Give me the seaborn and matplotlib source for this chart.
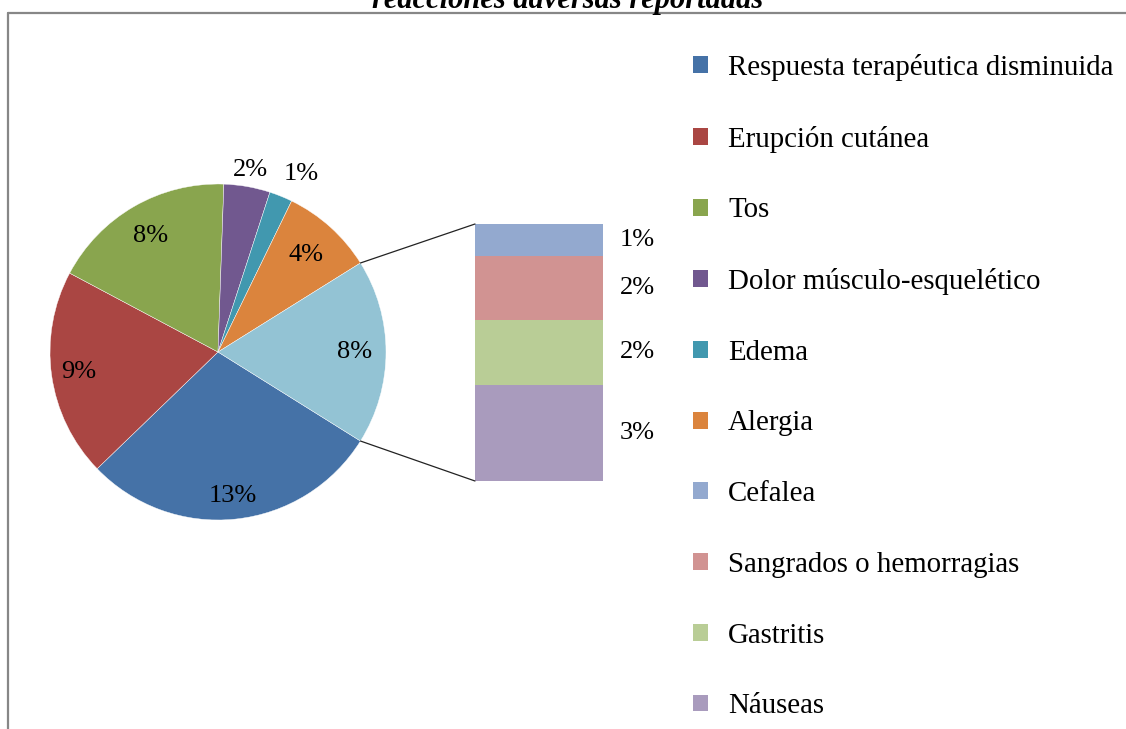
import numpy as np
import matplotlib
matplotlib.use("Agg")
import matplotlib.pyplot as plt
from matplotlib.patches import Patch, ConnectionPatch
from matplotlib.lines import Line2D
import seaborn as sns

# ---------------- data ----------------
title_text = "reacciones adversas reportadas"
pie_categories = ["Respuesta terapéutica disminuida", "Erupción cutánea", "Tos",
                  "Dolor músculo-esquelético", "Edema", "Alergia"]
pie_values = [13, 9, 8, 2, 1, 4]
other_categories = ["Cefalea", "Sangrados o hemorragias", "Gastritis", "Náuseas"]
other_values = [1, 2, 2, 3]

pie_colors = ["#4572A7", "#AA4643", "#89A54E", "#71588F", "#4198AF", "#DB843D"]
other_slice_color = "#93C3D4"
other_colors = ["#93A9CF", "#D19392", "#B9CD96", "#A99BBD"]

# ---------------- style ----------------
sns.set_theme(style="white")
plt.rcParams["font.family"] = ["Liberation Serif", "DejaVu Serif"]
plt.rcParams["text.color"] = "black"

W, H = 1126, 729
fig = plt.figure(figsize=(W / 100, H / 100), dpi=100)
fig.patch.set_facecolor("white")

def fx(px):
    return px / W

def fy(py):
    return 1 - py / H

# ---------------- pie ----------------
cx, cy, r_px, half = 218, 352, 171, 210
pax = fig.add_axes([fx(cx - half), fy(cy + half), 2 * half / W, 2 * half / H])
lim = half / r_px
pax.set_xlim(-lim, lim)
pax.set_ylim(-lim, lim)
pax.set_aspect("equal")
pax.axis("off")

other_total = sum(other_values)
all_vals = pie_values + [other_total]
all_cols = pie_colors + [other_slice_color]
total = sum(all_vals)
start = -360 * (other_total / total) / 2

wedges, _ = pax.pie(all_vals, colors=all_cols, startangle=start, counterclock=False,
                    radius=1, wedgeprops=dict(edgecolor="white", linewidth=0.3))

label_dist = [0.86, 0.84, 0.80, 1.10, 1.17, 0.78, 0.81]
label_turn = [0, 0, 0, 0, -3, 0, 0]
for w, v, d, t in zip(wedges, all_vals, label_dist, label_turn):
    mid = np.deg2rad((w.theta1 + w.theta2) / 2 + t)
    pax.text(d * np.cos(mid), d * np.sin(mid), f"{v:.0f}%", ha="center", va="center",
             fontsize=19, color="black")

# ---------------- bar of pie ----------------
bx0, bx1, by0, by1 = 475, 603, 224, 481
bax = fig.add_axes([fx(bx0), fy(by1), (bx1 - bx0) / W, (by1 - by0) / H])
bottom = 0
seg_info = []
for cat, v, c in reversed(list(zip(other_categories, other_values, other_colors))):
    bax.bar(0, v, bottom=bottom, width=1.0, color=c, edgecolor="none")
    seg_info.append((bottom + v / 2, v))
    bottom += v
bax.set_xlim(-0.5, 0.5)
bax.set_ylim(0, other_total)
bax.axis("off")
for ymid, v in seg_info:
    bax.text(0.63, ymid, f"{v:.0f}%", ha="left", va="center", fontsize=19,
             color="black", clip_on=False)

# connector lines
other_w = wedges[-1]
for ang, ybar in [(other_w.theta1, 0), (other_w.theta2, other_total)]:
    a = np.deg2rad(ang)
    con = ConnectionPatch(xyA=(np.cos(a), np.sin(a)), coordsA=pax.transData,
                          xyB=(-0.5, ybar), coordsB=bax.transData,
                          color="#222222", lw=0.9)
    fig.add_artist(con)

# ---------------- legend ----------------
handles = [Patch(facecolor=c, edgecolor="none") for c in pie_colors + other_colors]
labels = pie_categories + other_categories
fig.legend(handles, labels, loc="upper left", bbox_to_anchor=(fx(693), fy(54)),
           frameon=False, fontsize=20.8, handlelength=0.52, handleheight=0.52,
           handletextpad=0.69, labelspacing=1.547, borderpad=0, borderaxespad=0,
           labelcolor="black")

# ---------------- frame & title ----------------
frame_col = "#878787"
fig.add_artist(Line2D([fx(8), 1.0], [fy(12.5), fy(12.5)], color=frame_col, lw=1.6,
                      transform=fig.transFigure))
fig.add_artist(Line2D([fx(8), fx(8)], [fy(12.5), 0.0], color=frame_col, lw=1.6,
                      transform=fig.transFigure))
fig.text(fx(568), fy(8), title_text, ha="center", va="baseline", fontsize=22,
         fontweight="bold", fontstyle="italic", color="black")

fig.savefig("out.png", dpi=100, facecolor="white")
